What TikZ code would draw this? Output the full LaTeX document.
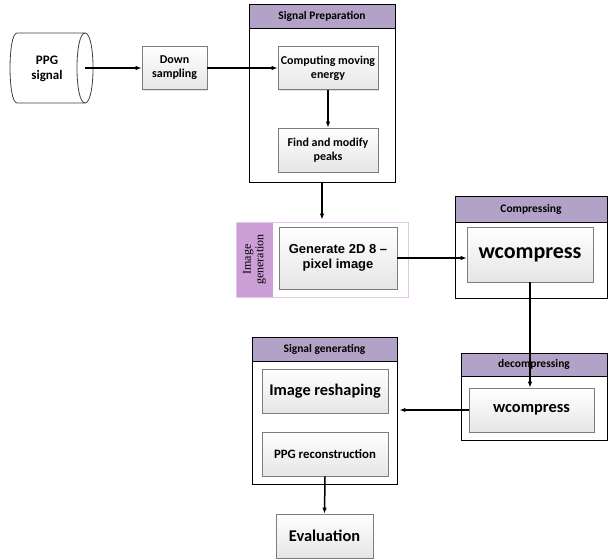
\documentclass[tikz,border=0pt]{standalone}
\usepackage{fontspec}
\setmainfont{Carlito}
\newfontfamily\arialf{Liberation Sans}
\newfontfamily\tnrf{Liberation Serif}
\usetikzlibrary{arrows.meta,shadows}
\definecolor{hdr}{RGB}{178,162,199}
\definecolor{stripe}{RGB}{204,160,214}
\definecolor{framec}{RGB}{228,196,232}
\definecolor{boxb}{RGB}{125,125,125}
\tikzset{
  inbox/.style={draw=boxb, line width=0.6pt, top color=white, bottom color=gray!20,
    drop shadow={shadow xshift=1.2pt, shadow yshift=-1.2pt, opacity=0.25},
    align=center, font=\bfseries\fontsize{12}{14}\selectfont, inner sep=1pt},
  outbox/.style={draw=black, line width=0.9pt, fill=white, inner sep=0pt},
  hdrbox/.style={draw=black, line width=0.9pt, fill=hdr, inner sep=0pt,
    font=\bfseries\fontsize{11.5}{13}\selectfont},
  arr/.style={-{Latex[length=6pt,width=4.5pt]}, line width=1.5pt},
}
\begin{document}
\begin{tikzpicture}[x=1pt,y=-1pt]
\useasboundingbox (0,0) rectangle (609,559);
% cylinder
\draw[line width=0.8pt, draw=black!75, fill=white]
  (17,33) -- (85,33) .. controls (95.7,33) and (95.7,103) .. (85,103) -- (17,103)
  .. controls (7.7,103) and (7.7,33) .. (17,33) -- cycle;
\draw[line width=0.8pt, draw=black!75] (85,33) .. controls (74.3,33) and (74.3,103) .. (85,103);
\node (cyl) at (47,69) [font=\bfseries\fontsize{13}{15.5}\selectfont, align=center] {PPG\\signal};
\coordinate (cylr) at (85,68);

% outer boxes
\node[outbox, minimum width=146pt, minimum height=178pt] (prep) at (322,93) {};
\node[hdrbox, minimum width=146pt, minimum height=24pt] (preph) at (322,16) {Signal Preparation};

\node[draw=framec, line width=0.8pt, fill=white, minimum width=172pt, minimum height=75pt, inner sep=0pt] (frame) at (322,259.5) {};
\node[fill=stripe, minimum width=36pt, minimum height=74pt, inner sep=0pt] (stripe) at (254.5,259.5) {};
\node[rotate=90, font=\tnrf\fontsize{12}{12.5}\selectfont, align=center] (stripet) at (254.5,259.5) {Image\\generation};

\node[outbox, minimum width=152pt, minimum height=102pt] (compo) at (531,247) {};
\node[hdrbox, minimum width=152pt, minimum height=26pt] (compoh) at (531,209) {Compressing};

\node[outbox, minimum width=146pt, minimum height=87pt] (deco) at (534,396.5) {};
\node[hdrbox, minimum width=146pt, minimum height=23pt] (decoh) at (534,364.5) {decompressing};

\node[outbox, minimum width=145pt, minimum height=147pt] (geno) at (324.5,410.5) {};
\node[hdrbox, minimum width=145pt, minimum height=24pt] (genoh) at (324.5,349) {Signal generating};

% inner boxes
\node[inbox, minimum width=65pt, minimum height=43pt] (down) at (174.5,68) {Down\\sampling};
\node[inbox, minimum width=100pt, minimum height=43pt] (comp) at (328,68) {Computing moving\\energy};
\node[inbox, minimum width=100pt, minimum height=44pt] (find) at (328,150) {Find and modify\\peaks};
\node[inbox, minimum width=118pt, minimum height=62pt, font=\arialf\bfseries\fontsize{13}{15.5}\selectfont] (gen) at (338,258) {Generate 2D 8 –\\pixel image};
\node[inbox, minimum width=126pt, minimum height=55pt, font=\bfseries\fontsize{22}{24}\selectfont] (wc1) at (530,254.5) {wcompress};
\node[inbox, minimum width=125pt, minimum height=44pt, font=\bfseries\fontsize{16.4}{18}\selectfont] (wc2) at (531.5,410) {wcompress};
\node[inbox, minimum width=126pt, minimum height=44pt, font=\bfseries\fontsize{16.3}{18}\selectfont] (resh) at (325,391) {Image reshaping};
\node[inbox, minimum width=126pt, minimum height=44pt, font=\bfseries\fontsize{12.8}{14}\selectfont] (recon) at (325,454) {PPG reconstruction};
\node[inbox, minimum width=97pt, minimum height=44pt, font=\bfseries\fontsize{16.4}{18}\selectfont] (eval) at (324.5,536) {Evaluation};

% connectors
\draw[arr] (cylr) -- (down.west);
\draw[arr] (down.east) -- (comp.west);
\draw[arr] (comp.south) -- (find.north);
\draw[arr, shorten >=2pt] (prep.south) -- (prep.south |- frame.north);
\draw[arr] (gen.east) -- (gen.east -| wc1.west);
\draw[arr] (wc1.south) -- (wc1.south |- wc2.north);
\draw[arr, shorten >=2pt] (wc2.west) -- (wc2.west -| geno.east);
\draw[arr] (recon.south) -- (eval.north);
\end{tikzpicture}
\end{document}
